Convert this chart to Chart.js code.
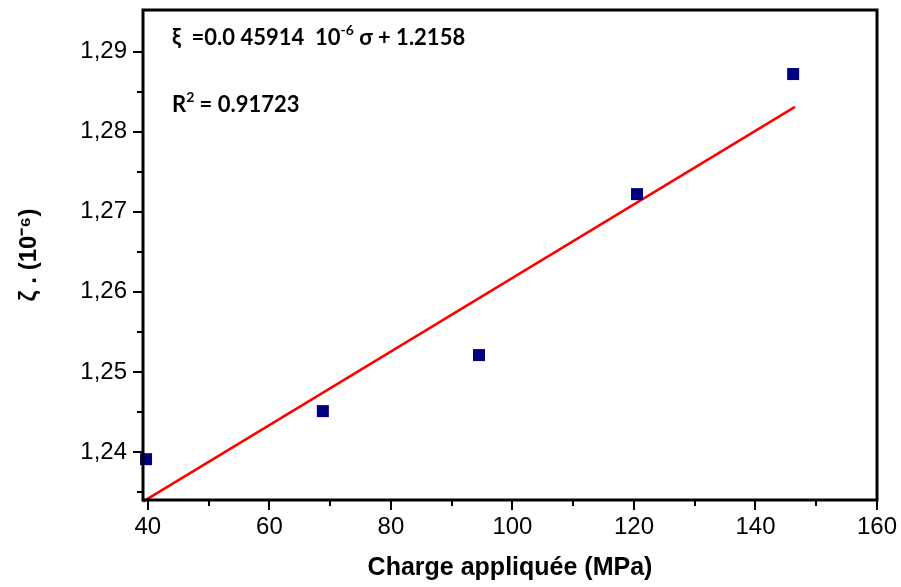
<!DOCTYPE html>
<html>
<head>
<meta charset="utf-8">
<script src="https://cdn.jsdelivr.net/npm/chart.js@4"></script>
<style>
  html, body { margin: 0; padding: 0; background: #fff; }
  #wrap { width: 901px; height: 587px; }
</style>
</head>
<body>
<div id="wrap"><canvas id="chart" width="901" height="587"></canvas></div>
<script>
// measured points
const chargeMPa = [39.7, 68.8, 94.5, 120.5, 146.2]
const strain = [1.2391, 1.2451, 1.2521, 1.2722, 1.2872]

// fitted line end points
const fitX = [39.2, 146.5]
const fitY = [1.2338, 1.2831]

const xMajorTicks = [40, 60, 80, 100, 120, 140, 160]
const xMinorTicks = [50, 70, 90, 110, 130, 150]
const yMajorTicks = [1.24, 1.25, 1.26, 1.27, 1.28, 1.29]
const yMinorTicks = [1.235, 1.245, 1.255, 1.265, 1.275, 1.285]

const fitLabel = [["ξ  =0.0 45914  10", false], ["-6", true], [" σ + 1.2158", false]]
const r2Label = [["R", false], ["2", true], [" = 0.91723", false]]

// frame, ticks and equation text
const framePlugin = {
  id: "frame",
  afterDraw(chart) {
    const { ctx, chartArea: a, scales } = chart
    ctx.save()
    ctx.strokeStyle = "#000"
    ctx.lineWidth = 3
    ctx.strokeRect(a.left, a.top, a.right - a.left, a.bottom - a.top)

    ctx.lineWidth = 2
    const tickX = (vals, len) => {
      vals.forEach((v) => {
        const px = Math.round(scales.x.getPixelForValue(v))
        ctx.beginPath()
        ctx.moveTo(px, a.bottom)
        ctx.lineTo(px, a.bottom + len)
        ctx.stroke()
      })
    }
    const tickY = (vals, len) => {
      vals.forEach((v) => {
        const py = Math.round(scales.y.getPixelForValue(v))
        ctx.beginPath()
        ctx.moveTo(a.left, py)
        ctx.lineTo(a.left - len, py)
        ctx.stroke()
      })
    }
    tickX(xMajorTicks, 10)
    tickX(xMinorTicks, 6)
    tickY(yMajorTicks, 10)
    tickY(yMinorTicks, 6)

    const drawParts = (parts, x, y) => {
      parts.forEach(([t, sup]) => {
        ctx.font = sup ? "bold 14px Lato" : "bold 22px Lato"
        ctx.fillText(t, x, sup ? y - 10 : y)
        x += ctx.measureText(t).width
      })
    }
    ctx.fillStyle = "#000"
    ctx.textBaseline = "alphabetic"
    drawParts(fitLabel, a.left + 29, 45)
    drawParts(r2Label, a.left + 29, 112)
    ctx.restore()
  },
}

const ctx = document.getElementById("chart").getContext("2d")
new Chart(ctx, {
  type: "scatter",
  data: {
    datasets: [
      {
        label: "mesures",
        data: chargeMPa.map((x, i) => ({ x, y: strain[i] })),
        pointStyle: "rect",
        pointRadius: 8.5,
        backgroundColor: "#000080",
        borderColor: "#000080",
        borderWidth: 0,
        clip: false,
      },
      {
        label: "fit",
        data: fitX.map((x, i) => ({ x, y: fitY[i] })),
        showLine: true,
        pointRadius: 0,
        borderColor: "#ff0000",
        borderWidth: 2.5,
        clip: false,
      },
    ],
  },
  options: {
    responsive: false,
    animation: false,
    layout: { padding: { top: 10, right: 24, left: 0, bottom: 0 } },
    plugins: { legend: { display: false }, tooltip: { enabled: false } },
    scales: {
      x: {
        type: "linear",
        min: 39.2,
        max: 160,
        grid: { display: false, drawTicks: true, tickLength: 13 },
        border: { display: false },
        afterBuildTicks: (scale) => {
          scale.ticks = xMajorTicks.map((v) => ({ value: v }))
        },
        afterFit: (scale) => {
          scale.height = 87
        },
        ticks: {
          padding: 0,
          color: "#000",
          font: { family: "Liberation Sans, Arial", size: 24 },
          callback: (v) => String(v),
        },
        title: {
          display: true,
          text: "Charge appliquée (MPa)",
          color: "#000",
          font: { family: "Liberation Sans, Arial", size: 25, weight: "bold" },
          padding: { top: 0, bottom: 4 },
        },
      },
      y: {
        type: "linear",
        min: 1.234,
        max: 1.2952,
        grid: { display: false, drawTicks: true, tickLength: 16 },
        border: { display: false },
        afterBuildTicks: (scale) => {
          scale.ticks = yMajorTicks.map((v) => ({ value: v }))
        },
        afterFit: (scale) => {
          scale.width = 143
        },
        ticks: {
          padding: 0,
          color: "#000",
          font: { family: "Liberation Sans, Arial", size: 24, lineHeight: 0.8 },
          callback: (v) => v.toFixed(2).replace(".", ","),
        },
        title: {
          display: true,
          text: "ζ . (10⁻⁶)",
          color: "#000",
          font: { family: "Liberation Sans, Arial", size: 24, weight: "bold" },
          padding: { top: 15, bottom: 0 },
        },
      },
    },
  },
  plugins: [framePlugin],
})
</script>
</body>
</html>
